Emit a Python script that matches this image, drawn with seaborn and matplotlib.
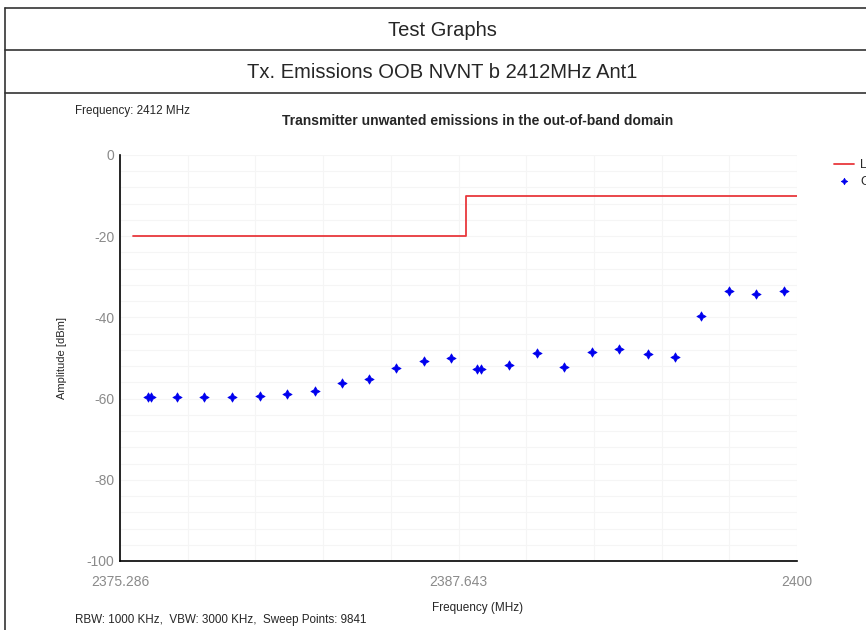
import matplotlib
matplotlib.use("Agg")
import numpy as np
import pandas as pd
import matplotlib.pyplot as plt
import seaborn as sns
from matplotlib.lines import Line2D

# data
limit_freq = [2375.76, 2387.90, 2387.90, 2400.0]
limit_amp = [-20, -20, -10, -10]

check_freq = [2376.31, 2376.42, 2377.37, 2378.36, 2379.39, 2380.38, 2381.40,
              2382.39, 2383.38, 2384.37, 2385.36, 2386.38, 2387.37, 2388.32,
              2388.47, 2389.49, 2390.52, 2391.51, 2392.50, 2393.52, 2394.55,
              2395.53, 2396.49, 2397.51, 2398.50, 2399.53]
check_amp = [-59.6, -59.6, -59.6, -59.6, -59.6, -59.4, -58.9, -58.1, -56.1,
             -55.2, -52.5, -50.7, -50.0, -52.7, -52.7, -51.7, -48.8, -52.2,
             -48.5, -47.8, -49.0, -49.8, -39.7, -33.5, -34.2, -33.5]

x_ticks = [2375.286, 2387.643, 2400]
x_labels = ["2375.286", "2387.643", "2400"]
y_ticks = [0, -20, -40, -60, -80, -100]

sns.set_style("white")
plt.rcParams['font.family'] = ['Liberation Sans', 'DejaVu Sans']
plt.rcParams['axes.unicode_minus'] = False

fig = plt.figure(figsize=(8.66, 6.3), dpi=100)

# -------------------------------
# table frame around the chart
# -------------------------------
W, H = 866, 630
def hline(y):
    fig.add_artist(Line2D([5 / W, 1], [1 - y / H] * 2, color="#333333", lw=1.2))
hline(8)
hline(50)
hline(93)
fig.add_artist(Line2D([5 / W] * 2, [1 - 8 / H, 0], color="#333333", lw=1.2))
fig.text(442 / W, 1 - 30 / H, "Test Graphs", ha="center", va="center", fontsize=14.5)
fig.text(442 / W, 1 - 73 / H, "Tx. Emissions OOB NVNT b 2412MHz Ant1",
         ha="center", va="center", fontsize=14.5)

# -------------------------------
# chart
# -------------------------------
ax = fig.add_axes([120 / W, 1 - 561 / H, 677 / W, 406 / H])

limit_df = pd.DataFrame({"freq": limit_freq, "amp": limit_amp})
check_df = pd.DataFrame({"freq": check_freq, "amp": check_amp})

sns.lineplot(data=limit_df, x="freq", y="amp", sort=False, estimator=None,
             color="#e8383d", lw=1.3, ax=ax, label="Limit")
sns.scatterplot(data=check_df, x="freq", y="amp", marker=(4, 1, 0), s=45,
                color="#0000ee", edgecolor="#0000ee", linewidth=0.5, ax=ax,
                label="Curve")

ax.set_xlim(2375.286, 2400)
ax.set_ylim(-100, 0)
ax.set_xticks(x_ticks)
ax.set_xticklabels(x_labels)
ax.set_yticks(y_ticks)
ax.set_xticks(np.linspace(2375.286, 2400, 11), minor=True)
ax.set_yticks(np.arange(-100, 1, 4), minor=True)
ax.grid(True, which="both", color="#f5f5f5", lw=0.8)
ax.set_axisbelow(True)
ax.tick_params(which="both", length=0, labelsize=10, labelcolor="#8a8a8a")
ax.tick_params(axis="x", pad=10)
ax.tick_params(axis="y", pad=4)
for side in ["top", "right"]:
    ax.spines[side].set_visible(False)
for side in ["left", "bottom"]:
    ax.spines[side].set_color("black")
    ax.spines[side].set_linewidth(1.2)

ax.set_xlabel("")
ax.set_ylabel("")
ax.legend(loc="upper left", bbox_to_anchor=(1.045, 1.005), frameon=False,
          fontsize=9, handlelength=1.6, borderpad=0, labelspacing=0.35,
          handletextpad=0.5, markerscale=0.7)

fig.text(478 / W, 1 - 121 / H, "Transmitter unwanted emissions in the out-of-band domain",
         ha="center", va="center", fontsize=10, fontweight="bold")
fig.text(75 / W, 1 - 111 / H, "Frequency: 2412 MHz", ha="left", va="center",
         fontsize=8.4)
fig.text(62 / W, 1 - 358 / H, "Amplitude [dBm]", ha="center", va="center",
         rotation=90, fontsize=8)
fig.text(478 / W, 1 - 608 / H, "Frequency (MHz)", ha="center", va="center",
         fontsize=8.5)
fig.text(75 / W, 1 - 620 / H, "RBW: 1000 KHz,  VBW: 3000 KHz,  Sweep Points: 9841",
         ha="left", va="center", fontsize=8.4)

fig.savefig("out.png", dpi=100)
